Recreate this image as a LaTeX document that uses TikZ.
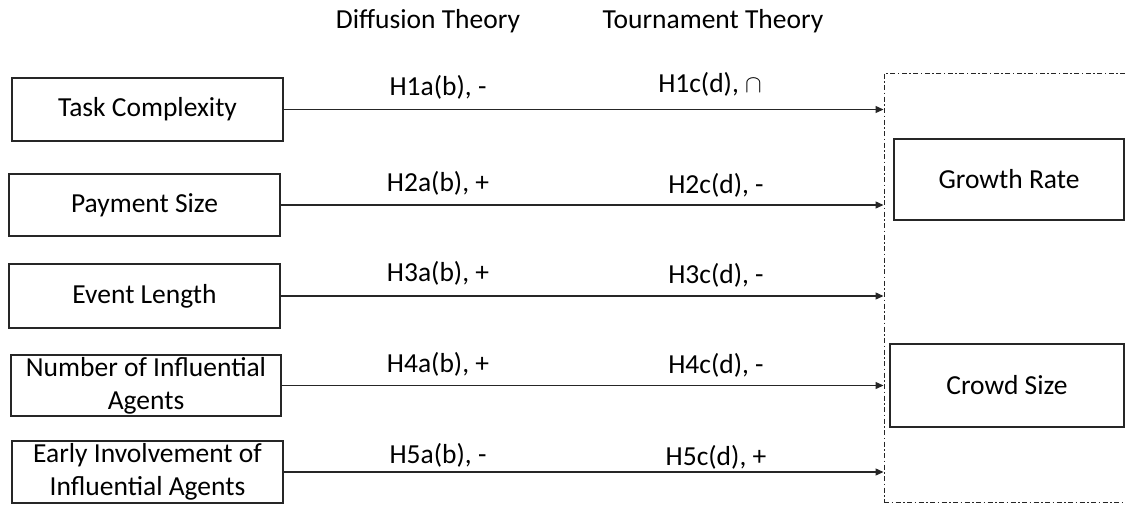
\documentclass[tikz,border=0pt]{standalone}
\usepackage{fontspec}
\setmainfont{Carlito}
\usetikzlibrary{arrows.meta}
\begin{document}
\begin{tikzpicture}[x=1pt,y=-1pt,
  every node/.style={font=\fontsize{27.5}{33}\selectfont, text=black},
  factor/.style={draw=black!85, line width=1.4pt, inner sep=0pt, align=center},
  link/.style={draw=black!85, line width=1.3pt, -{Triangle[length=8pt,width=7pt]}},
  hyp/.style={anchor=base, inner sep=0pt},
  group/.style={draw=black!85, line width=1pt, inner sep=0pt, dash pattern=on 5pt off 2.5pt on 1.5pt off 2.5pt}
]
\clip (0,0) rectangle (1125,504);
% headers
\node[hyp] (dt) at (428,28) {Diffusion Theory};
\node[hyp] (tt) at (713,28) {Tournament Theory};
% dependent-variable group
\node[group, minimum width=251pt, minimum height=429pt] (G) at (1009.5,287.5) {};
\node[factor, minimum width=230pt, minimum height=81pt] (gr) at (1009,179.5) {Growth Rate};
\node[factor, minimum width=234pt, minimum height=83pt] (cs) at (1007,385.5) {Crowd Size};
% factors
\node[factor, minimum width=271pt, minimum height=63pt] (b1) at (147.5,109.5) {Task Complexity};
\node[factor, minimum width=271pt, minimum height=62pt] (b2) at (144.5,205) {Payment Size};
\node[factor, minimum width=271pt, minimum height=64pt] (b3) at (144.5,296) {Event Length};
\node[factor, minimum width=270pt, minimum height=61pt] (b4) at (146,385.5) {Number of Influential\\Agents};
\node[factor, minimum width=271pt, minimum height=62pt] (b5) at (147.5,472) {Early Involvement of\\Influential Agents};
% connectors
\foreach \b in {b1,b2,b3,b4,b5}
  \draw[link] (\b.east) -- (\b.east -| G.west);
% hypothesis labels
\node[hyp] (h1a) at (438,95) {H1a(b), -};
\node[hyp] (h1c) at (710,92) {H1c(d), {\fontsize{38}{33}\selectfont$\cap$}};
\node[hyp] (h2a) at (438,191) {H2a(b), +};
\node[hyp] (h2c) at (716,193) {H2c(d), -};
\node[hyp] (h3a) at (438,281) {H3a(b), +};
\node[hyp] (h3c) at (716,283) {H3c(d), -};
\node[hyp] (h4a) at (438,372) {H4a(b), +};
\node[hyp] (h4c) at (716,373) {H4c(d), -};
\node[hyp] (h5a) at (438,463) {H5a(b), -};
\node[hyp] (h5c) at (716,465) {H5c(d), +};
\end{tikzpicture}
\end{document}
